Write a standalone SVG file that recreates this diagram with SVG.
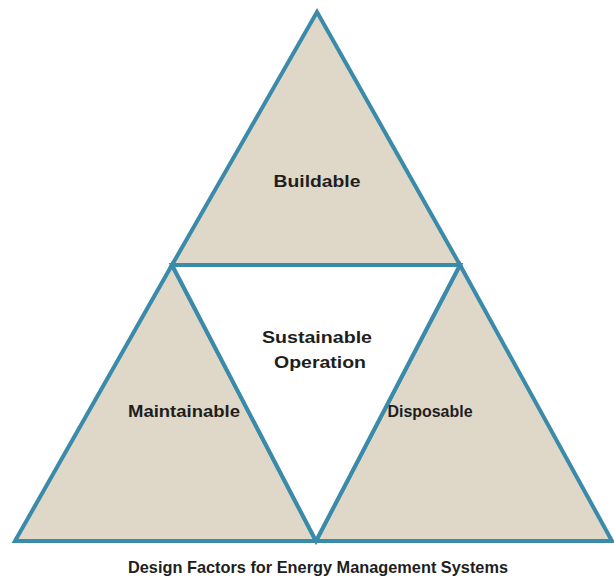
<svg xmlns="http://www.w3.org/2000/svg" width="614" height="580" viewBox="0 0 614 580">
<style>
.tri{fill:#dfd7c7;stroke:#3a8aaa;stroke-width:4;stroke-linejoin:miter}
.lbl{font-family:"Liberation Sans",Arial,sans-serif;font-weight:bold;font-size:17px;fill:#1e1e1e;text-anchor:middle}
</style>
<rect width="614" height="580" fill="#ffffff"/>
<g id="buildable">
<polygon class="tri" points="317,12 460,265 172,265"/>
<text class="lbl" x="317" y="187" textLength="87" lengthAdjust="spacingAndGlyphs">Buildable</text>
</g>
<g id="maintainable">
<polygon class="tri" points="172,265 316,541 15,541"/>
<text class="lbl" x="184" y="417" textLength="112" lengthAdjust="spacingAndGlyphs">Maintainable</text>
</g>
<g id="disposable">
<polygon class="tri" points="460,265 612,541 316,541"/>
<text class="lbl" x="430" y="417" textLength="85" lengthAdjust="spacingAndGlyphs">Disposable</text>
</g>
<g id="sustainable-operation">
<polygon points="172,265 460,265 316,541" fill="#ffffff" stroke="#3a8aaa" stroke-width="4"/>
<text class="lbl" x="317" y="343" textLength="110" lengthAdjust="spacingAndGlyphs">Sustainable</text>
<text class="lbl" x="320" y="368" textLength="92" lengthAdjust="spacingAndGlyphs">Operation</text>
</g>
<g id="caption">
<text class="lbl" x="318" y="573" textLength="380" lengthAdjust="spacingAndGlyphs">Design Factors for Energy Management Systems</text>
</g>
</svg>
